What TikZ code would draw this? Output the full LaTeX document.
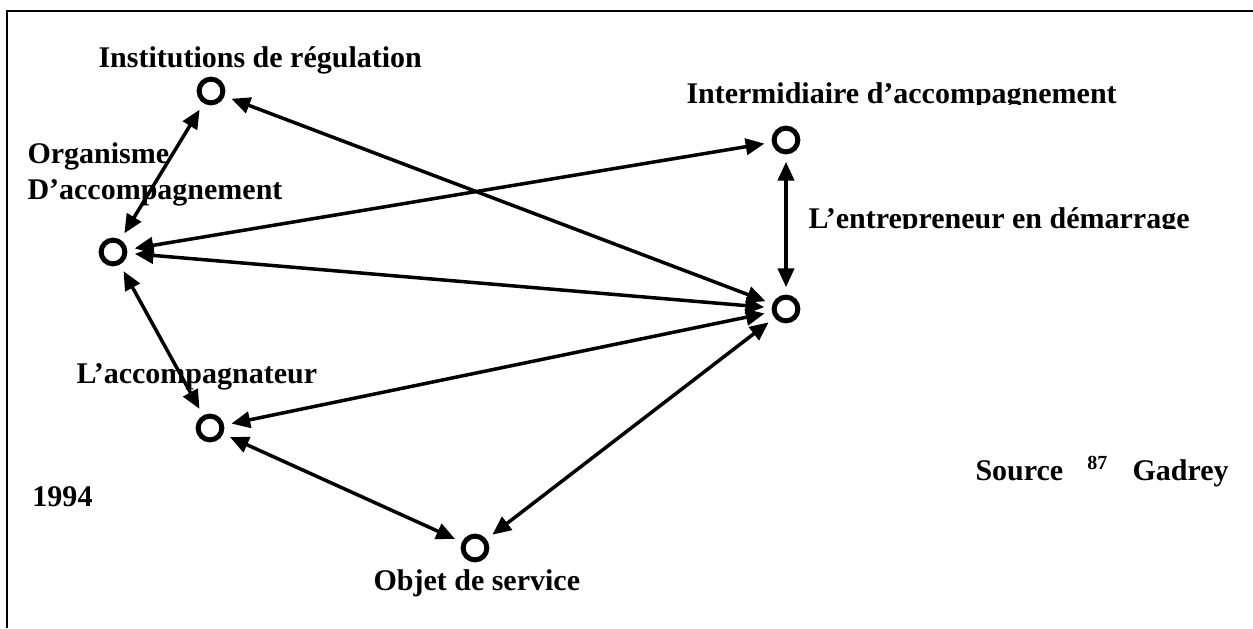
\documentclass[tikz,border=0pt]{standalone}
\usepackage{fontspec}
\setmainfont{Liberation Serif}
\usetikzlibrary{arrows.meta}
\tikzset{
  actor/.style={circle, draw, line width=2pt, inner sep=0pt, minimum size=9.5pt},
  link/.style={line width=1.4pt, {Triangle[length=7.5pt,width=6.5pt]}-{Triangle[length=7.5pt,width=6.5pt]},
    shorten <=3pt, shorten >=3pt},
  tag/.style={font=\fontsize{12}{14}\selectfont\bfseries, inner sep=0pt, anchor=base west}
}
\begin{document}
\begin{tikzpicture}[x=0.4pt, y=-0.4pt]
  \useasboundingbox (0, 0) rectangle (1253, 628);
  % frame, top and left sides only
  \draw[line width=1pt] (1253, 11) -- (7, 11) -- (7, 628);
  % actors
  \node[actor] (inst) at (211, 91) {};
  \node[actor] (interm) at (786, 140) {};
  \node[actor] (org) at (113, 252) {};
  \node[actor] (entr) at (786, 309) {};
  \node[actor] (acc) at (210, 428) {};
  \node[actor] (obj) at (475, 548) {};
  % texts
  \node[tag] (tinst) at (98, 67) {Institutions de régulation};
  \begin{scope}
    \clip (680, 60) rectangle (1253, 104);
    \node[tag] (tinterm) at (686, 103) {Intermidiaire d’accompagnement};
  \end{scope}
  \node[tag] (torg) at (27, 163) {Organisme};
  \node[tag] (torg2) at (27, 199) {D’accompagnement};
  \begin{scope}
    \clip (800, 190) rectangle (1253, 228);
    \node[tag] (tentr) at (808, 228) {L’entrepreneur en démarrage};
  \end{scope}
  \node[tag] (tacc) at (76, 383) {L’accompagnateur};
  \node[tag] (tyear) at (32, 506) {1994};
  \node[tag] (tsrc) at (975, 480) {Source\hspace{0.8em}\textsuperscript{87}\hspace{0.8em}Gadrey};
  \node[tag] (tobj) at (373, 590) {Objet de service};
  % links
  \draw[link] (org) -- (inst);
  \draw[link] (entr) -- (inst);
  \draw[link] (org) -- (interm);
  \draw[link] (org) -- (entr);
  \draw[link] (interm) -- (entr);
  \draw[link] (org) -- (acc);
  \draw[link] (acc) -- (entr);
  \draw[link] (acc) -- (obj);
  \draw[link] (obj) -- (entr);
\end{tikzpicture}
\end{document}
